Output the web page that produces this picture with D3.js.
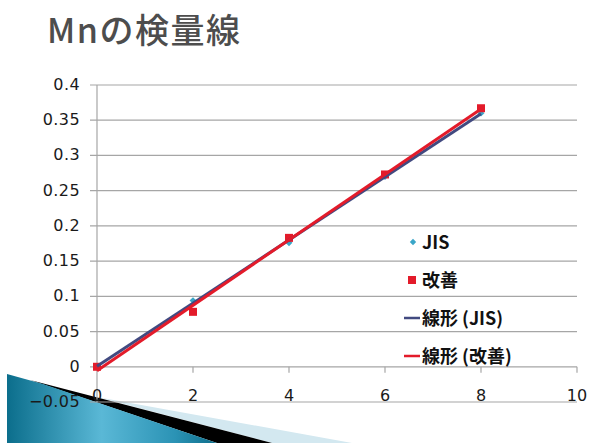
<!DOCTYPE html>
<html>
<head>
<meta charset="utf-8">
<script src="https://cdn.jsdelivr.net/npm/d3@7"></script>
<style>
  body { margin: 0; background: #fff; }
  svg { display: block; }
</style>
</head>
<body>
<svg id="chart" width="589" height="443"></svg>
<script>
// data
const xValues = [0, 2, 4, 6, 8];
const jisValues = [0, 0.094, 0.176, 0.27, 0.36];
const kaizenValues = [0, 0.078, 0.183, 0.273, 0.367];
const yTicks = [-0.05, 0, 0.05, 0.1, 0.15, 0.2, 0.25, 0.3, 0.35, 0.4];
const xTicks = [0, 2, 4, 6, 8, 10];
const legendLabels = ['JIS', '改善', '線形 (JIS)', '線形 (改善)'];
const titleText = 'Mnの検量線';

const svg = d3.select('#chart');

const x = d3.scaleLinear().domain([0, 10]).range([97, 577]);
const y = d3.scaleLinear().domain([-0.05, 0.4]).range([402, 85]);

// least squares line, like the spreadsheet trendline
function fitLine(xs, ys) {
    const mx = d3.mean(xs), my = d3.mean(ys);
    let num = 0, den = 0;
    xs.forEach((v, i) => { num += (v - mx) * (ys[i] - my); den += (v - mx) * (v - mx); });
    const slope = num / den;
    return { slope: slope, intercept: my - slope * mx };
}

// title
svg.append('text')
    .attr('x', 47).attr('y', 43)
    .attr('font-family', '"Noto Sans CJK JP", "Noto Sans", sans-serif')
    .attr('font-size', 34).attr('font-weight', 500)
    .attr('letter-spacing', 1.5)
    .attr('fill', '#4d4d4d')
    .text(titleText);

// decoration in the bottom left corner (slide template)
const defs = svg.append('defs');
const grad = defs.append('linearGradient').attr('id', 'blueGrad')
    .attr('x1', '0').attr('y1', '0').attr('x2', '1').attr('y2', '0');
grad.append('stop').attr('offset', '0%').attr('stop-color', '#0b6e8c');
grad.append('stop').attr('offset', '45%').attr('stop-color', '#5ab8d6');
grad.append('stop').attr('offset', '80%').attr('stop-color', '#2b93b5');
grad.append('stop').attr('offset', '100%').attr('stop-color', '#0d6d8a');

svg.append('polygon')
    .attr('points', '97,397 352,443 272,443')
    .attr('fill', '#d3e8f0');
svg.append('polygon')
    .attr('points', '30,380 272,443 217,443')
    .attr('fill', '#000');
svg.append('polygon')
    .attr('points', '7,374 43,384 217,443 7,443')
    .attr('fill', 'url(#blueGrad)');

// horizontal grid lines
svg.append('g').selectAll('line').data(yTicks).enter().append('line')
    .attr('x1', 90).attr('x2', x(10))
    .attr('y1', d => y(d)).attr('y2', d => y(d))
    .attr('stroke', '#a6a6a6').attr('stroke-width', 1.2);

// y axis line
svg.append('line')
    .attr('x1', x(0)).attr('x2', x(0))
    .attr('y1', y(0.4)).attr('y2', y(-0.05))
    .attr('stroke', '#a6a6a6').attr('stroke-width', 1.2);

// x ticks hanging from the zero line
svg.append('g').selectAll('line').data(xTicks.slice(1)).enter().append('line')
    .attr('x1', d => x(d)).attr('x2', d => x(d))
    .attr('y1', y(0)).attr('y2', y(0) + 6)
    .attr('stroke', '#a6a6a6').attr('stroke-width', 1.2);

const tickFont = '"DejaVu Sans", sans-serif';

svg.append('g').selectAll('text').data(yTicks).enter().append('text')
    .attr('x', 80).attr('y', d => y(d) + 5)
    .attr('text-anchor', 'end')
    .attr('font-family', tickFont).attr('font-size', 16)
    .attr('letter-spacing', 0.4)
    .attr('fill', '#1a1a1a')
    .text(d => d < 0 ? '\u2212' + String(-d) : String(d));

svg.append('g').selectAll('text').data(xTicks).enter().append('text')
    .attr('x', d => x(d)).attr('y', 401)
    .attr('text-anchor', 'middle')
    .attr('font-family', tickFont).attr('font-size', 16)
    .attr('fill', '#1a1a1a')
    .text(d => d);

// markers
const jisColor = '#3aa6c8';
const kaizenColor = '#e31b2a';
const jisLineColor = '#424a80';

svg.append('g').selectAll('path').data(xValues).enter().append('path')
    .attr('d', d3.symbol().type(d3.symbolDiamond2).size(30))
    .attr('transform', (d, i) => `translate(${x(d)},${y(jisValues[i])})`)
    .attr('fill', jisColor);

svg.append('g').selectAll('rect').data(xValues).enter().append('rect')
    .attr('x', d => x(d) - 4).attr('y', (d, i) => y(kaizenValues[i]) - 4)
    .attr('width', 8).attr('height', 8)
    .attr('fill', kaizenColor);

// trendlines
const fits = [
    { fit: fitLine(xValues, jisValues), color: jisLineColor },
    { fit: fitLine(xValues, kaizenValues), color: kaizenColor }
];
fits.forEach(f => {
    svg.append('line')
        .attr('x1', x(0)).attr('y1', y(f.fit.intercept))
        .attr('x2', x(8)).attr('y2', y(f.fit.intercept + 8 * f.fit.slope))
        .attr('stroke', f.color).attr('stroke-width', 3);
});

// legend
const legendFont = '"Noto Sans CJK JP", sans-serif';
const legendY = [242, 280, 318, 356];
const legend = svg.append('g');
legend.selectAll('text').data(legendLabels).enter().append('text')
    .attr('x', 422).attr('y', (d, i) => legendY[i] + 7)
    .attr('font-family', legendFont).attr('font-size', 18).attr('font-weight', 'bold')
    .attr('fill', '#111')
    .text(d => d);
legend.append('path')
    .attr('d', d3.symbol().type(d3.symbolDiamond2).size(26))
    .attr('transform', `translate(413,${legendY[0]})`)
    .attr('fill', jisColor);
legend.append('rect')
    .attr('x', 408).attr('y', legendY[1] - 4).attr('width', 8).attr('height', 8)
    .attr('fill', kaizenColor);
legend.append('line')
    .attr('x1', 404).attr('x2', 420).attr('y1', legendY[2]).attr('y2', legendY[2])
    .attr('stroke', jisLineColor).attr('stroke-width', 2.5);
legend.append('line')
    .attr('x1', 404).attr('x2', 420).attr('y1', legendY[3]).attr('y2', legendY[3])
    .attr('stroke', kaizenColor).attr('stroke-width', 2.5);
</script>
</body>
</html>
